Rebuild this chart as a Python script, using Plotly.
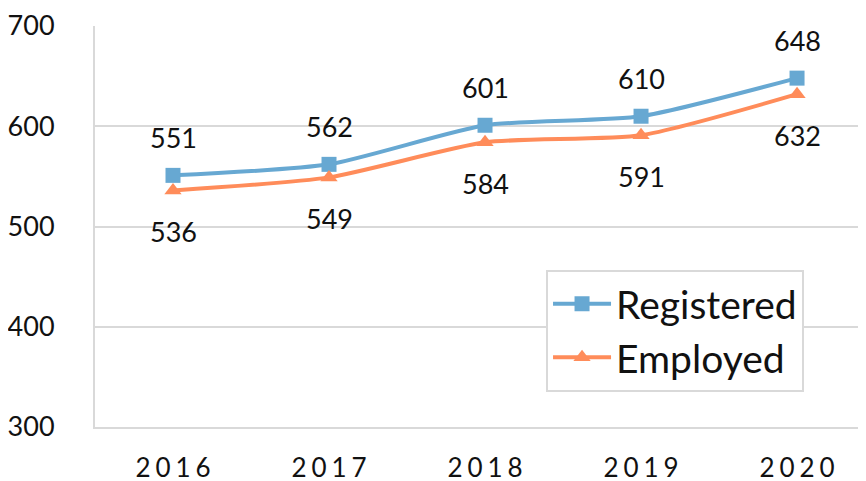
import plotly.graph_objects as go

years = ["2016", "2017", "2018", "2019", "2020"]
registered = [551, 562, 601, 610, 648]
employed = [536, 549, 584, 591, 632]
y_ticks = [300, 400, 500, 600, 700]

blue = "#67a8d2"
orange = "#ff8c5a"
font_family = "Lato, 'Open Sans', sans-serif"

fig = go.Figure()
fig.add_trace(go.Scatter(
    x=years, y=registered, name="Registered", mode="lines+markers",
    line=dict(color=blue, width=4, shape="spline", smoothing=0.6),
    marker=dict(symbol="square", size=15, color=blue),
))
fig.add_trace(go.Scatter(
    x=years, y=employed, name="Employed", mode="lines+markers",
    line=dict(color=orange, width=4, shape="spline", smoothing=0.6),
    marker=dict(symbol="triangle-up", size=15, color=orange),
))

annotations = []
for i, v in enumerate(registered):
    annotations.append(dict(x=i, y=v, xref="x", yref="y", text=str(v), showarrow=False, yshift=38,
                            font=dict(size=27, color="#111", family=font_family)))
for i, v in enumerate(employed):
    annotations.append(dict(x=i, y=v, xref="x", yref="y", text=str(v), showarrow=False, yshift=-41,
                            font=dict(size=27, color="#111", family=font_family)))

# page body has an 8px default margin, so the figure is shrunk by 8px
fig.update_layout(
    width=858, height=473,
    margin=dict(l=87, r=0, t=18, b=54),
    paper_bgcolor="white", plot_bgcolor="white",
    font=dict(family=font_family, size=27, color="#111"),
    showlegend=True,
    legend=dict(x=0.585, y=0.392, xanchor="left", yanchor="top",
                bordercolor="#d9d9d9", borderwidth=2, bgcolor="white",
                font=dict(size=39, family=font_family, color="#111"),
                itemwidth=58, tracegroupgap=0),
    annotations=annotations,
)
fig.update_xaxes(
    type="category", range=[-0.5, 4.442], automargin=False,
    tickvals=years, ticktext=["\u2009\u200a".join(list(y)) for y in years],
    showgrid=False, showline=True, linecolor="#d9d9d9", linewidth=2,
    ticks="", ticklabelstandoff=17, tickfont=dict(size=26),
)
fig.update_yaxes(
    range=[300, 700], tickvals=y_ticks, automargin=False,
    showgrid=True, gridcolor="#d9d9d9", gridwidth=2,
    showline=True, linecolor="#d9d9d9", linewidth=2,
    zeroline=False, ticks="", ticklabelstandoff=33, ticklabeloverflow="allow",
    tickfont=dict(size=27),
)

fig.write_html("out.html")
